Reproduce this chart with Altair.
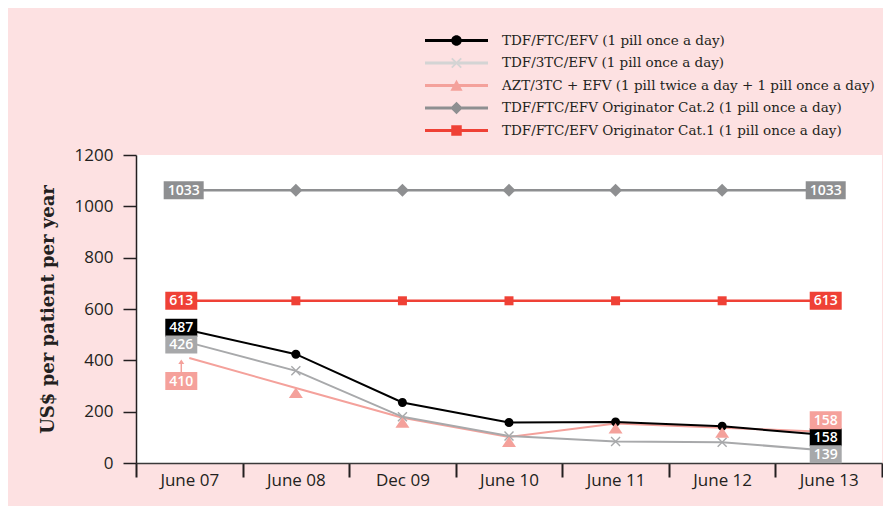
import altair as alt
import pandas as pd

# ---------------- data ----------------
dates = ["June 07", "June 08", "Dec 09", "June 10", "June 11", "June 12", "June 13"]

series = [
    "TDF/FTC/EFV (1 pill once a day)",
    "TDF/3TC/EFV (1 pill once a day)",
    "AZT/3TC + EFV (1 pill twice a day + 1 pill once a day)",
    "TDF/FTC/EFV Originator Cat.2 (1 pill once a day)",
    "TDF/FTC/EFV Originator Cat.1 (1 pill once a day)",
]

tdf_ftc_efv = [517, 424, 236, 158, 160, 143, 108]
tdf_3tc_efv = [469, 359, 180, 105, 84, 81, 48]
azt_3tc_efv = [409, 292, 176, 101, 154, 137, 121]
originator_cat2 = [1063, 1063, 1063, 1063, 1063, 1063, 1063]
originator_cat1 = [632, 632, 632, 632, 632, 632, 632]

values_by_series = [tdf_ftc_efv, tdf_3tc_efv, azt_3tc_efv, originator_cat2, originator_cat1]

# end labels (printed values) : first date / last date
start_labels = ["487", "426", "410", "1033", "613"]
end_labels = ["158", "139", "158", "1033", "613"]

y_ticks = [0, 200, 400, 600, 800, 1000, 1200]

# ---------------- styles ----------------
line_colors = ["#000000", "#a8a9ab", "#f4a19b", "#8e8f91", "#ef4136"]
legend_colors = ["#000000", "#d4d4d4", "#f4a19b", "#8e8f91", "#ef4136"]
box_colors = ["#000000", "#a7a8aa", "#f5a19b", "#8e8f91", "#ef4136"]
line_widths = [2, 2, 2, 2.5, 2.5]

# in-chart markers (unit = sqrt(size)/2 px)
marker_paths = [
    "M-0.9,0A0.9,0.9,0,1,1,0.9,0A0.9,0.9,0,1,1,-0.9,0Z",
    "M-0.8,-1L1,0.8L0.8,1L-1,-0.8Z M1,-0.8L-0.8,1L-1,0.8L0.8,-1Z",
    "M0,-0.1L1.4,2L-1.4,2Z",
    "M0,-1.3L1.3,0L0,1.3L-1.3,0Z",
    "M-0.9,-0.9L0.9,-0.9L0.9,0.9L-0.9,0.9Z",
]
bar = "M-3,-0.14L3,-0.14L3,0.14L-3,0.14Z "
legend_paths = [
    bar + "M-0.5,0A0.5,0.5,0,1,1,0.5,0A0.5,0.5,0,1,1,-0.5,0Z",
    bar + "M-0.39,-0.51L0.51,0.39L0.39,0.51L-0.51,-0.39Z M0.51,-0.39L-0.39,0.51L-0.51,0.39L0.39,-0.51Z",
    bar + "M0,-0.55L0.58,0.5L-0.58,0.5Z",
    bar + "M0,-0.6L0.6,0L0,0.6L-0.6,0Z",
    bar + "M-0.5,-0.5L0.5,-0.5L0.5,0.5L-0.5,0.5Z",
]

# label offsets (px) : (dx, dy) per series, start and end
start_offsets = [(-8, -2.6), (-8, 2), (-8, 23), (-5.6, 0), (-8, 0)]
end_offsets = [(-3, 2), (-3, 3.6), (-3, -11.7), (-3, 0), (-3, 0)]

TEXT = "#231f20"

# ---------------- long table ----------------
rows = []
for s, vals in zip(series, values_by_series):
    for d, v in zip(dates, vals):
        rows.append({"date": d, "value": v, "series": s})
df = pd.DataFrame(rows)

X = alt.X(
    "date:N",
    sort=dates,
    bandPosition=0.5,
    scale=alt.Scale(type="band", domain=dates, paddingInner=0, paddingOuter=0),
    axis=alt.Axis(
        title=None,
        tickBand="extent",
        labelAngle=0,
        labelFont="Open Sans",
        labelFontSize=17,
        labelColor=TEXT,
        labelPadding=-5,
        tickSize=14,
        tickWidth=2,
        tickColor=TEXT,
        domainColor="#3a3a3a",
        domainWidth=1.5,
        grid=False,
    ),
)
Y = alt.Y(
    "value:Q",
    scale=alt.Scale(domain=[0, 1200], nice=False, zero=True),
    axis=alt.Axis(
        values=y_ticks,
        format="d",
        title="US$ per patient per year",
        titleFont="DejaVu Serif",
        titleFontWeight="bold",
        titleFontSize=18,
        titleColor=TEXT,
        titlePadding=17,
        labelFont="Open Sans",
        labelFontSize=17,
        labelColor=TEXT,
        labelPadding=10,
        tickSize=13,
        tickWidth=1.5,
        tickColor=TEXT,
        domainColor=TEXT,
        domainWidth=1.5,
        grid=False,
    ),
)

layers = []

# lines, drawn back to front
draw_order = [3, 4, 2, 1, 0]
for i in draw_order:
    sub = df[df["series"] == series[i]]
    layers.append(
        alt.Chart(sub)
        .mark_line(color=line_colors[i], strokeWidth=line_widths[i])
        .encode(x=X, y=Y)
    )

# markers (the end points are hidden under the value boxes)
inner = df[(df["date"] != dates[0]) & (df["date"] != dates[-1])]
layers.append(
    alt.Chart(inner)
    .mark_point(filled=True, opacity=1, size=100, strokeWidth=0)
    .encode(
        x=X,
        y=Y,
        color=alt.Color("series:N", scale=alt.Scale(domain=series, range=line_colors), legend=None),
        shape=alt.Shape("series:N", scale=alt.Scale(domain=series, range=marker_paths), legend=None),
    )
)

# legend-only layer
leg = alt.Legend(
    orient="none",
    legendX=310,
    legendY=-125,
    title=None,
    padding=0,
    symbolSize=441,
    symbolStrokeWidth=0,
    symbolOpacity=1,
    labelFont="DejaVu Serif",
    labelFontSize=13.5,
    labelColor=TEXT,
    labelOffset=35,
    labelLimit=600,
    rowPadding=5.5,
)
layers.append(
    alt.Chart(df)
    .transform_calculate(legend="datum.series")
    .mark_point(filled=True, opacity=0, size=441)
    .encode(
        x=X,
        y=Y,
        color=alt.Color("legend:N", scale=alt.Scale(domain=series, range=legend_colors), legend=leg),
        shape=alt.Shape("legend:N", scale=alt.Scale(domain=series, range=legend_paths), legend=leg),
    )
)


def box_path(w, h):
    hy = round(h / w, 4)
    return f"M-1,{-hy}L1,{-hy}L1,{hy}L-1,{hy}Z"


def label_layers(date, value, text, color, dx, dy):
    w = 40 if len(text) == 4 else 32
    d = pd.DataFrame({"date": [date], "value": [value], "text": [text]})
    box = (
        alt.Chart(d)
        .mark_point(shape=box_path(w, 18), size=w * w, filled=True, fill=color,
                    opacity=1, strokeWidth=0, xOffset=dx, yOffset=dy)
        .encode(x=X, y=Y)
    )
    txt = (
        alt.Chart(d)
        .mark_text(color="white", font="Open Sans", fontSize=14, fontWeight=600,
                   align="center", baseline="middle", xOffset=dx, yOffset=dy + 0.5)
        .encode(x=X, y=Y, text="text:N")
    )
    return [box, txt]


# arrow from the 410 label
arrow_df = pd.DataFrame({"date": [dates[0]], "value": [azt_3tc_efv[0]]})
layers.append(
    alt.Chart(arrow_df)
    .mark_rule(color=line_colors[2], strokeWidth=1.5, xOffset=-8, yOffset=3, y2Offset=14)
    .encode(x=X, y=Y, y2=alt.Y2("value"))
)
layers.append(
    alt.Chart(arrow_df)
    .mark_point(shape="M0,0L1,1.5L-1,1.5Z", size=36, filled=True, fill=line_colors[2],
                opacity=1, strokeWidth=0, xOffset=-8, yOffset=1.5)
    .encode(x=X, y=Y)
)

for i in range(len(series)):
    dx, dy = start_offsets[i]
    layers += label_layers(dates[0], values_by_series[i][0], start_labels[i], box_colors[i], dx, dy)
    dx, dy = end_offsets[i]
    layers += label_layers(dates[-1], values_by_series[i][-1], end_labels[i], box_colors[i], dx, dy)

chart = (
    alt.layer(*layers)
    .resolve_scale(color="independent", shape="independent")
    .properties(
        width=746,
        height=308,
        autosize=alt.AutoSizeParams(type="none"),
        padding={"left": 128, "top": 147, "right": 1, "bottom": 43},
        background="#fde1e2",
    )
    .configure_view(fill="white", stroke=None)
)

chart.save("out.html", embed_options={"renderer": "svg", "actions": False})
